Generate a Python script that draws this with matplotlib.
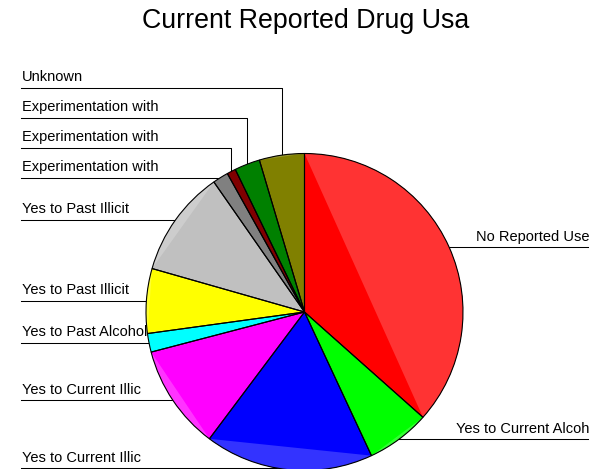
import numpy as np
import matplotlib
matplotlib.use('Agg')
import matplotlib.pyplot as plt
from matplotlib.patches import Polygon, Wedge

plt.rcParams['font.family'] = ['Liberation Sans', 'DejaVu Sans']

W, H = 596, 469

title = 'Current Reported Drug Usa'
# slices clockwise from 12 o'clock
labels = ['No Reported Use', 'Yes to Current Alcoh', 'Yes to Current Illic',
          'Yes to Current Illic', 'Yes to Past Alcohol', 'Yes to Past Illicit',
          'Yes to Past Illicit', 'Experimentation with', 'Experimentation with',
          'Experimentation with', 'Unknown']
shares = [36.6, 6.5, 17.2, 10.7, 1.9, 6.6, 10.9, 1.6, 0.9, 2.6, 4.6]
colors = ['#ff0000', '#00ff00', '#0000ff', '#ff00ff', '#00ffff', '#ffff00',
          '#c0c0c0', '#808080', '#800000', '#008000', '#808000']

fig = plt.figure(figsize=(W / 100, H / 100), dpi=100)
ax = fig.add_axes([0, 0, 1, 1])
cx, cy, r = 304.5, H - 312, 158.5

wedges, _ = ax.pie(shares, colors=colors, startangle=90, counterclock=False,
                   center=(cx, cy), radius=r, frame=True,
                   wedgeprops=dict(edgecolor='none', zorder=3))

# lighter band between chord and arc of each slice (as in the original render)
for w, c in zip(wedges, colors):
    t = np.deg2rad(np.linspace(w.theta1, w.theta2, 100))
    pts = np.column_stack([cx + r * np.cos(t), cy + r * np.sin(t)])
    rgb = np.array(matplotlib.colors.to_rgb(c))
    light = rgb + (1 - rgb) * 0.2
    ax.add_patch(Polygon(pts, closed=True, fc=light, ec='none', zorder=4))
    ax.add_patch(Wedge((cx, cy), r, w.theta1, w.theta2, fc='none',
                       ec='black', lw=0.8, zorder=5))

# leader lines and labels
left_x, right_x = 21, 588
gap = 30
info = []
for w, lab in zip(wedges, labels):
    a = np.deg2rad((w.theta1 + w.theta2) / 2)
    info.append((lab, cx + r * np.cos(a), cy + r * np.sin(a), np.cos(a) < 0))

left = sorted([i for i in info if i[3]], key=lambda i: i[2])
prev = -1e9
for lab, rx, ry, _ in left:
    ly = max(ry, prev + gap, 1)
    prev = ly
    if ly - ry > 0.5:
        ax.plot([rx, rx, left_x], [ry, ly, ly], color='black', lw=0.75, zorder=1)
    else:
        ax.plot([rx, left_x], [ly, ly], color='black', lw=0.75, zorder=1)
    ax.text(left_x + 1, ly + 6.5, lab, ha='left', va='baseline',
            fontsize=10.5, zorder=2)

for lab, rx, ry, is_left in info:
    if is_left:
        continue
    ax.plot([rx, right_x], [ry, ry], color='black', lw=0.75, zorder=1)
    ax.text(right_x + 1, ry + 6.5, lab, ha='right', va='baseline',
            fontsize=10.5, zorder=2)

ax.text(306, H - 28, title, ha='center', va='baseline', fontsize=19.3)

ax.set_xlim(0, W)
ax.set_ylim(0, H)
ax.set_aspect('auto')
ax.axis('off')

fig.savefig('out.png', dpi=100)
